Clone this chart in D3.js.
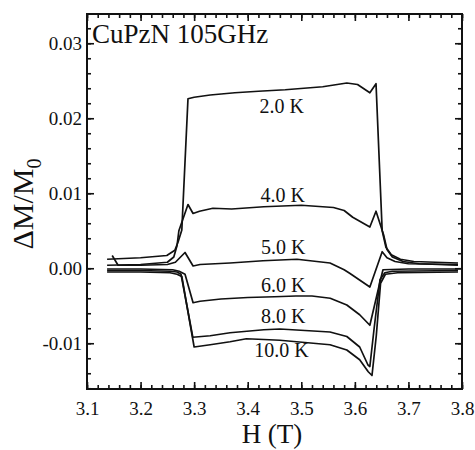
<!DOCTYPE html>
<html>
<head>
<meta charset="utf-8">
<script src="https://cdn.jsdelivr.net/npm/d3@7"></script>
<style>
  html, body { margin: 0; padding: 0; background: #fff; }
  svg { display: block; }
  svg text { font-family: "Liberation Serif", "Tinos", "Times New Roman", Times, "DejaVu Serif", "Noto Serif", serif !important; fill: #111; }
</style>
</head>
<body>
<svg id="chart" width="475" height="450"></svg>
<script>
// ---- Data (H in tesla, ΔM/M0) ----
const curve2K = [[3.1375,0.0012],[3.20,0.0014],[3.249,0.0017],[3.264,0.0024],[3.270,0.0035],[3.277,0.0051],[3.2885,0.0226],[3.30,0.0228],[3.33,0.0231],[3.376,0.0234],[3.42,0.0236],[3.47,0.0238],[3.54,0.0242],[3.585,0.0247],[3.605,0.0245],[3.628,0.0234],[3.6395,0.0246],[3.651,0.0050],[3.658,0.0028],[3.668,0.0018],[3.685,0.0012],[3.71,0.0009],[3.75,0.0008],[3.7925,0.0007]];
const curve4K = [[3.1375,0.0004],[3.20,0.0005],[3.25,0.0008],[3.262,0.0015],[3.268,0.0030],[3.2715,0.0050],[3.2885,0.0085],[3.298,0.0073],[3.31,0.0076],[3.335,0.0080],[3.37,0.0079],[3.43,0.0082],[3.50,0.0084],[3.56,0.0081],[3.58,0.0077],[3.596,0.0068],[3.628,0.0055],[3.6395,0.0076],[3.6535,0.0045],[3.660,0.0025],[3.670,0.0015],[3.690,0.0009],[3.72,0.0006],[3.7925,0.0004]];
const curve5K = [[3.147,0.0017],[3.158,0.0004],[3.20,0.0004],[3.25,0.0005],[3.265,0.0008],[3.283,0.0021],[3.298,0.0003],[3.311,0.0005],[3.367,0.0007],[3.4285,0.0010],[3.492,0.0012],[3.5536,0.0007],[3.58,-0.0002],[3.591,-0.0007],[3.628,-0.0025],[3.651,0.0022],[3.66,0.0014],[3.675,0.0009],[3.70,0.0006],[3.7925,0.0005]];
const curve6K = [[3.1375,-0.0001],[3.20,-0.0001],[3.26,-0.0002],[3.272,-0.0004],[3.283,-0.0008],[3.298,-0.0046],[3.311,-0.0044],[3.35,-0.0041],[3.40,-0.0039],[3.45,-0.0038],[3.49,-0.0037],[3.52,-0.0037],[3.554,-0.0040],[3.585,-0.0049],[3.609,-0.0062],[3.628,-0.0076],[3.647,-0.0018],[3.6525,-0.0002],[3.70,-0.0001],[3.7925,-0.0001]];
const curve8K = [[3.1375,-0.0003],[3.20,-0.0003],[3.255,-0.0004],[3.268,-0.0005],[3.2755,-0.0008],[3.2975,-0.0092],[3.33,-0.0090],[3.367,-0.0086],[3.43,-0.0082],[3.46,-0.0081],[3.5536,-0.0085],[3.585,-0.0091],[3.609,-0.0105],[3.6245,-0.0129],[3.628,-0.0131],[3.636,-0.0080],[3.647,-0.0015],[3.656,-0.0006],[3.67,-0.0004],[3.7925,-0.0003]];
const curve10K = [[3.1375,-0.0005],[3.20,-0.0005],[3.255,-0.0006],[3.268,-0.0008],[3.277,-0.0011],[3.300,-0.0105],[3.33,-0.0102],[3.367,-0.0098],[3.3975,-0.0094],[3.43,-0.0095],[3.46,-0.0096],[3.5536,-0.0102],[3.585,-0.0109],[3.609,-0.0122],[3.625,-0.0138],[3.632,-0.0143],[3.640,-0.0090],[3.648,-0.0020],[3.657,-0.0008],[3.68,-0.0006],[3.7925,-0.0005]];

const seriesNames = ["2.0 K", "4.0 K", "5.0 K", "6.0 K", "8.0 K", "10.0 K"];
const seriesData = [curve2K, curve4K, curve5K, curve6K, curve8K, curve10K];
// label anchor points in data units (left x, baseline)
const labelH = [3.422, 3.424, 3.425, 3.425, 3.425, 3.412];
const labelM = [0.0207, 0.0089, 0.0019, -0.0031, -0.0073, -0.0118];

const xTicks = [3.1, 3.2, 3.3, 3.4, 3.5, 3.6, 3.7, 3.8];
const yTicks = [-0.01, 0.00, 0.01, 0.02, 0.03];
const titleText = "CuPzN 105GHz";

// ---- Layout ----
const svg = d3.select("#chart");
const L = 87, R = 462, T = 14, B = 389;
const x = d3.scaleLinear().domain([3.1, 3.8]).range([L, R]);
const y = d3.scaleLinear().domain([-0.0161, 0.0339]).range([B, T]);

const minorX = d3.range(3.1, 3.8001, 0.02).map(v => +v.toFixed(3));
const minorY = d3.range(-0.016, 0.0339, 0.002).map(v => +v.toFixed(4));

function styleAxis(g) {
  g.select(".domain").remove();
  g.selectAll("line").attr("stroke", "#111").attr("stroke-width", 1.6);
}

// minor ticks
svg.append("g").attr("transform", `translate(0,${B})`)
  .call(d3.axisTop(x).tickValues(minorX).tickSize(4).tickFormat(""))
  .call(styleAxis);
svg.append("g").attr("transform", `translate(0,${T})`)
  .call(d3.axisBottom(x).tickValues(minorX).tickSize(4).tickFormat(""))
  .call(styleAxis);
svg.append("g").attr("transform", `translate(${L},0)`)
  .call(d3.axisRight(y).tickValues(minorY).tickSize(4).tickFormat(""))
  .call(styleAxis);
svg.append("g").attr("transform", `translate(${R},0)`)
  .call(d3.axisLeft(y).tickValues(minorY).tickSize(4).tickFormat(""))
  .call(styleAxis);

// major ticks
svg.append("g").attr("transform", `translate(0,${B})`)
  .call(d3.axisTop(x).tickValues(xTicks).tickSize(7).tickFormat(""))
  .call(styleAxis);
svg.append("g").attr("transform", `translate(0,${T})`)
  .call(d3.axisBottom(x).tickValues(xTicks).tickSize(7).tickFormat(""))
  .call(styleAxis);
svg.append("g").attr("transform", `translate(${L},0)`)
  .call(d3.axisRight(y).tickValues(yTicks).tickSize(7).tickFormat(""))
  .call(styleAxis);
svg.append("g").attr("transform", `translate(${R},0)`)
  .call(d3.axisLeft(y).tickValues(yTicks).tickSize(7).tickFormat(""))
  .call(styleAxis);

// tick labels via axes
const xLab = svg.append("g").attr("transform", `translate(0,${B})`)
  .call(d3.axisBottom(x).tickValues(xTicks).tickSize(0).tickPadding(13).tickFormat(d3.format(".1f")));
xLab.select(".domain").remove();
xLab.selectAll("text").style("font-size", "19px").attr("fill", "#222");

const fmtY = v => d3.format(".2f")(v).replace("\u2212", "-");
const yLab = svg.append("g").attr("transform", `translate(${L},0)`)
  .call(d3.axisLeft(y).tickValues(yTicks).tickSize(0).tickPadding(5).tickFormat(fmtY));
yLab.select(".domain").remove();
yLab.selectAll("text").style("font-size", "19px").attr("fill", "#222");

// curves
const line = d3.line().x(d => x(d[0])).y(d => y(d[1]));
svg.append("g").selectAll("path").data(seriesData).join("path")
  .attr("d", line)
  .attr("fill", "none")
  .attr("stroke", "#111")
  .attr("stroke-width", 1.7)
  .attr("stroke-linejoin", "round");

// frame
svg.append("rect").attr("x", L).attr("y", T).attr("width", R - L).attr("height", B - T)
  .attr("fill", "none").attr("stroke", "#111").attr("stroke-width", 2);

// series labels
svg.append("g").selectAll("text").data(seriesNames).join("text")
  .attr("x", (d, i) => x(labelH[i]))
  .attr("y", (d, i) => y(labelM[i]))
  .style("font-size", "20px")
  .text(d => d);

// title inside plot
svg.append("text").attr("x", 92).attr("y", 43).style("font-size", "27px").text(titleText);

// axis titles
svg.append("text").attr("x", 272).attr("y", 443).attr("text-anchor", "middle")
  .style("font-size", "27px").text("H (T)");

const yt = svg.append("text").attr("transform", "translate(33,204) rotate(-90)")
  .attr("text-anchor", "middle").style("font-size", "30px");
yt.append("tspan").text("ΔM/M");
yt.append("tspan").attr("dy", 8).style("font-size", "20px").text("0");
</script>
</body>
</html>
